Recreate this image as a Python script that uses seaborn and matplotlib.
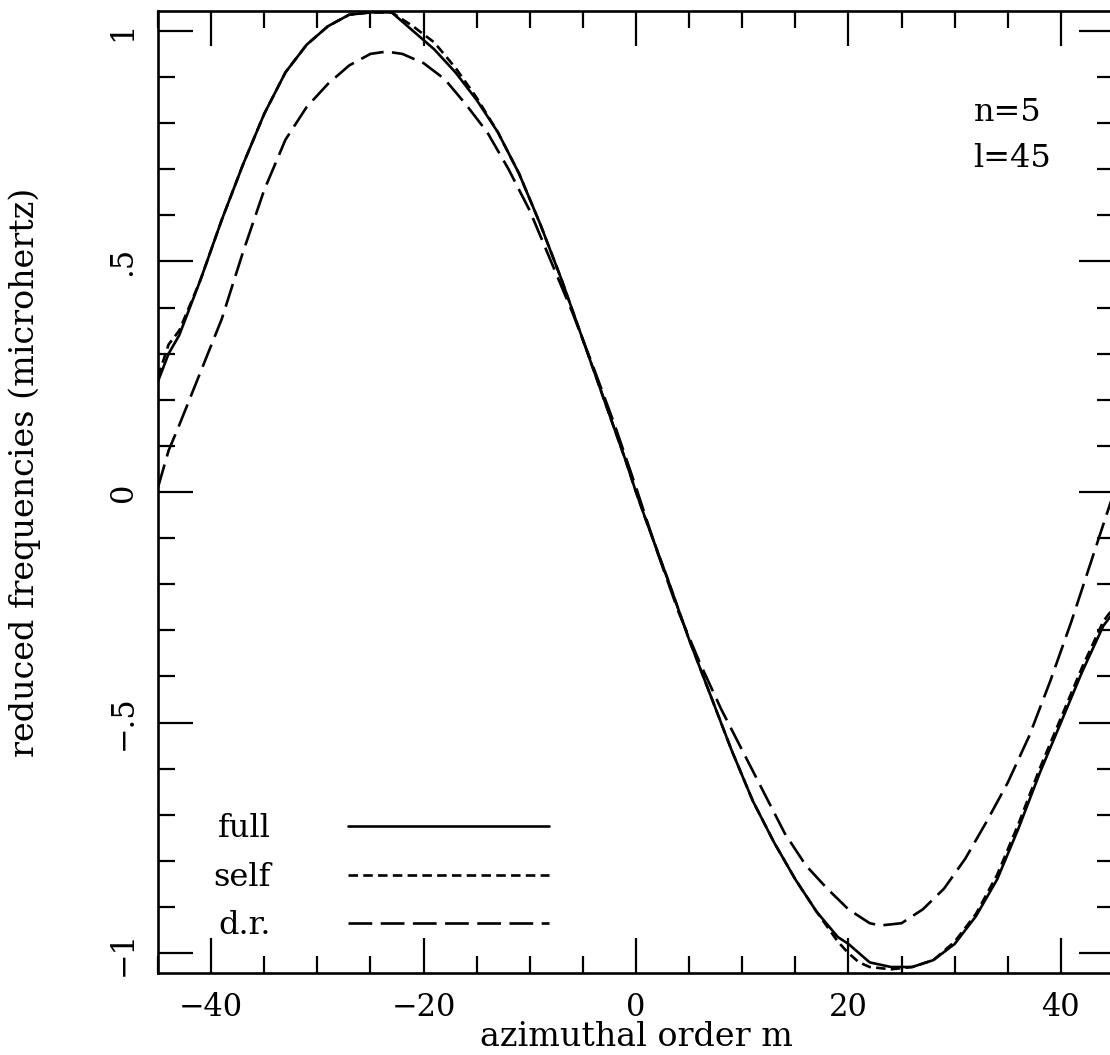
import numpy as np
import pandas as pd
import matplotlib
matplotlib.use("Agg")
import matplotlib.pyplot as plt
import seaborn as sns
from matplotlib.ticker import MultipleLocator

# ---- data ----
m_full = [-45, -44, -43, -41, -39, -37, -35, -33, -31, -29, -27, -25, -23, -21, -19, -17,
          -15, -13, -11, -9, -7, -5, -3, -1, 0, 1, 3, 5, 7, 9, 11, 13, 15, 17, 19, 20,
          21, 22, 24, 26, 28, 30, 32, 34, 36, 38, 40, 42, 44, 45]
v_full = [0.24, 0.30, 0.34, 0.46, 0.59, 0.71, 0.82, 0.91, 0.97, 1.01, 1.035, 1.04, 1.04,
          1.00, 0.96, 0.91, 0.85, 0.78, 0.69, 0.58, 0.46, 0.33, 0.20, 0.07, 0.00, -0.065,
          -0.19, -0.32, -0.44, -0.56, -0.67, -0.76, -0.84, -0.91, -0.965, -0.98, -1.00,
          -1.02, -1.03, -1.03, -1.015, -0.98, -0.92, -0.84, -0.73, -0.61, -0.50, -0.39,
          -0.29, -0.26]

m_self = [-45, -44, -43, -41, -39, -37, -35, -33, -31, -29, -27, -25, -23, -21, -19, -17,
          -15, -13, -11, -9, -7, -5, -3, -1, 0, 1, 3, 5, 7, 9, 11, 13, 15, 17, 19, 20,
          21, 22, 24, 26, 28, 30, 32, 34, 36, 38, 40, 42, 44, 45]
v_self = [0.25, 0.32, 0.35, 0.46, 0.59, 0.71, 0.82, 0.91, 0.97, 1.01, 1.035, 1.04, 1.04,
          1.01, 0.975, 0.92, 0.855, 0.78, 0.69, 0.58, 0.46, 0.33, 0.20, 0.07, 0.00, -0.065,
          -0.19, -0.32, -0.44, -0.56, -0.67, -0.76, -0.84, -0.91, -0.975, -1.00, -1.02,
          -1.03, -1.035, -1.03, -1.015, -0.975, -0.915, -0.83, -0.72, -0.60, -0.49, -0.38,
          -0.28, -0.25]

m_dr = [-45, -44, -43, -41, -39, -37, -35, -33, -31, -29, -27, -25, -23.5, -22, -20, -18,
        -16, -14, -12, -10, -8, -6, -4, -2, 0, 2, 4, 6, 8, 10, 12, 14, 16, 18, 20, 22, 23,
        25, 27, 29, 31, 33, 35, 37, 39, 41, 43, 44, 45]
v_dr = [0.01, 0.09, 0.145, 0.26, 0.375, 0.52, 0.655, 0.764, 0.835, 0.885, 0.925, 0.95, 0.955,
        0.95, 0.93, 0.895, 0.84, 0.78, 0.70, 0.61, 0.50, 0.39, 0.27, 0.145, 0.01, -0.13,
        -0.26, -0.37, -0.47, -0.56, -0.65, -0.74, -0.81, -0.86, -0.905, -0.935, -0.94,
        -0.935, -0.905, -0.86, -0.795, -0.715, -0.63, -0.53, -0.41, -0.28, -0.14, -0.07, 0.0]

series_names = ["full", "self", "d.r."]
x_ticks = [-40, -20, 0, 20, 40]
x_ticklabels = ["\u221240", "\u221220", "0", "20", "40"]
y_ticks = [-1, -0.5, 0, 0.5, 1]
y_ticklabels = ["\u22121", "\u2212.5", "0", ".5", "1"]
xlabel = "azimuthal order m"
ylabel = "reduced frequencies (microhertz)"
annotations = ["n=5", "l=45"]

df = pd.concat([
    pd.DataFrame({"m": m_full, "v": v_full, "series": "full"}),
    pd.DataFrame({"m": m_self, "v": v_self, "series": "self"}),
    pd.DataFrame({"m": m_dr, "v": v_dr, "series": "d.r."}),
], ignore_index=True)

sns.set_style("ticks")
plt.rcParams["font.family"] = ["DejaVu Serif"]
plt.rcParams["text.color"] = "black"
plt.rcParams["axes.labelcolor"] = "black"
plt.rcParams["xtick.color"] = "black"
plt.rcParams["ytick.color"] = "black"

FS_TICK = 22
FS_TXT = 23
FS_LAB = 24
fig = plt.figure(figsize=(11.10, 10.55), dpi=100)
ax = fig.add_axes([158 / 1110, 82 / 1055, 956 / 1110, 962 / 1055])

sns.lineplot(data=df, x="m", y="v", style="series", style_order=series_names,
             dashes={"full": "", "self": (3.6, 2.0), "d.r.": (9.0, 3.2)},
             color="black", linewidth=1.9, estimator=None, sort=True,
             legend=False, ax=ax)

ax.set_xlim(-45, 45)
ax.set_ylim(-1.043, 1.043)
ax.set_xticks(x_ticks)
ax.set_xticklabels(x_ticklabels)
ax.set_yticks(y_ticks)
ax.set_yticklabels(y_ticklabels, rotation=90, va="center")
ax.xaxis.set_minor_locator(MultipleLocator(5))
ax.yaxis.set_minor_locator(MultipleLocator(0.1))
ax.tick_params(which="both", direction="in", top=True, right=True, width=1.6,
               color="black", labelcolor="black", labelsize=FS_TICK)
ax.tick_params(which="major", length=25, pad=14)
ax.tick_params(which="minor", length=12.5)
for s in ax.spines.values():
    s.set_linewidth(1.9)
    s.set_color("black")

ax.set_xlabel(xlabel, fontsize=FS_LAB, color="black", va="bottom")
ax.xaxis.set_label_coords(0.5, -0.083)
ax.set_ylabel(ylabel, fontsize=FS_LAB, color="black")
ax.yaxis.set_label_coords(-0.122, 0.52)

ax.text(0.853, 0.895, annotations[0], transform=ax.transAxes, fontsize=FS_TXT,
        ha="left", va="center", color="black")
ax.text(0.853, 0.847, annotations[1], transform=ax.transAxes, fontsize=FS_TXT,
        ha="left", va="center", color="black")

leg = ax.legend(ax.lines, series_names, loc="lower left", bbox_to_anchor=(0.058, 0.033),
                frameon=False, markerfirst=False, fontsize=FS_TXT, handlelength=6.3,
                handletextpad=2.4, labelspacing=0.55, borderpad=0, borderaxespad=0)
for t in leg.get_texts():
    t.set_color("black")

fig.savefig("out.png", dpi=100)
